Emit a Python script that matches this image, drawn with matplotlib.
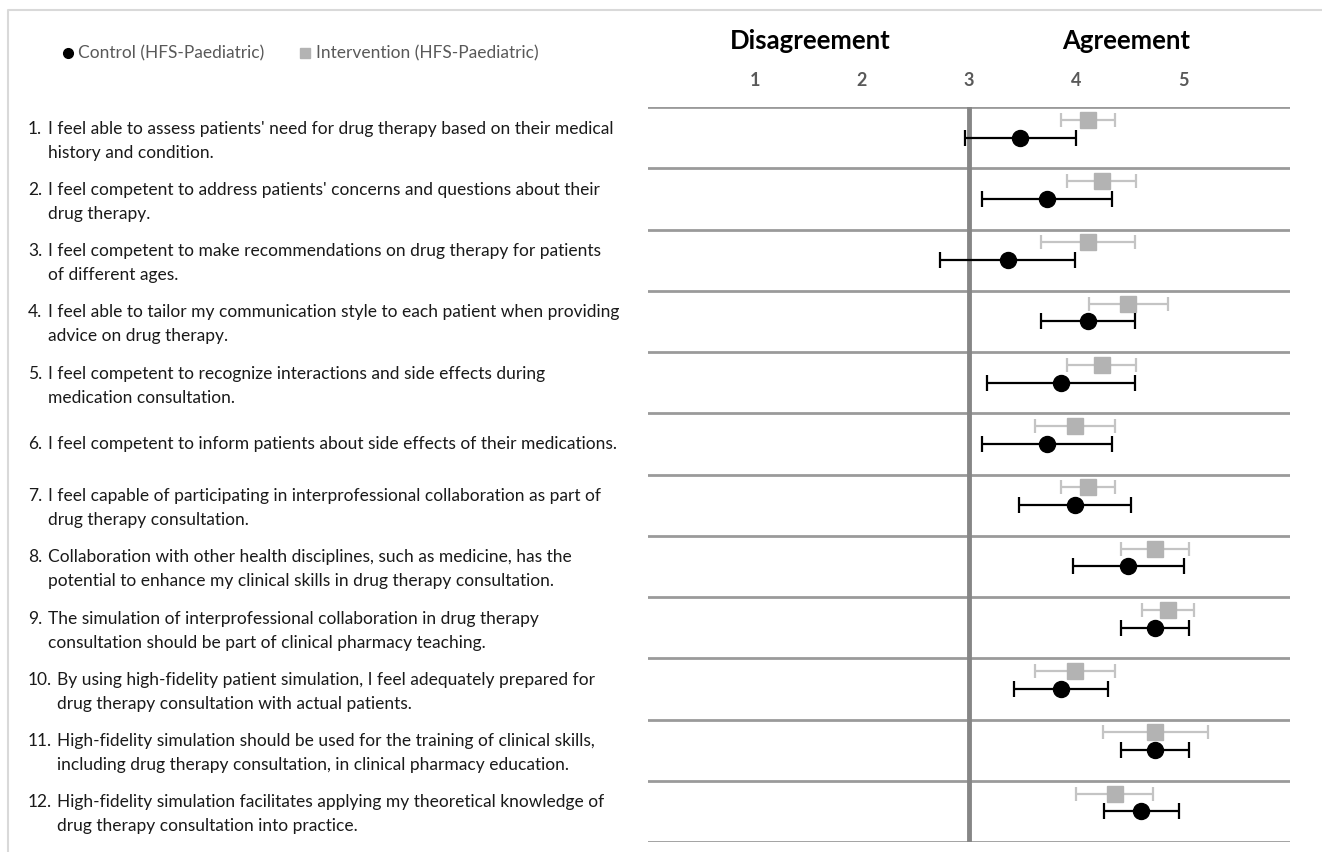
import numpy as np
import matplotlib
matplotlib.use("Agg")
import matplotlib.pyplot as plt
from matplotlib.lines import Line2D

# Survey items (number, first line, second line)
item_numbers = ["1.", "2.", "3.", "4.", "5.", "6.", "7.", "8.", "9.", "10.", "11.", "12."]
item_lines = [
    ["I feel able to assess patients' need for drug therapy based on their medical", "history and condition."],
    ["I feel competent to address patients' concerns and questions about their", "drug therapy."],
    ["I feel competent to make recommendations on drug therapy for patients", "of different ages."],
    ["I feel able to tailor my communication style to each patient when providing", "advice on drug therapy."],
    ["I feel competent to recognize interactions and side effects during", "medication consultation."],
    ["I feel competent to inform patients about side effects of their medications."],
    ["I feel capable of participating in interprofessional collaboration as part of", "drug therapy consultation."],
    ["Collaboration with other health disciplines, such as medicine, has the", "potential to enhance my clinical skills in drug therapy consultation."],
    ["The simulation of interprofessional collaboration in drug therapy", "consultation should be part of clinical pharmacy teaching."],
    ["By using high-fidelity patient simulation, I feel adequately prepared for", "drug therapy consultation with actual patients."],
    ["High-fidelity simulation should be used for the training of clinical skills,", "including drug therapy consultation, in clinical pharmacy education."],
    ["High-fidelity simulation facilitates applying my theoretical knowledge of", "drug therapy consultation into practice."],
]

# Mean agreement and error half-widths
control_mean = [3.48, 3.73, 3.36, 4.11, 3.86, 3.73, 3.99, 4.49, 4.74, 3.86, 4.74, 4.61]
control_err = [0.52, 0.61, 0.63, 0.44, 0.69, 0.61, 0.52, 0.52, 0.32, 0.44, 0.32, 0.35]
intervention_mean = [4.11, 4.24, 4.11, 4.49, 4.24, 3.99, 4.11, 4.74, 4.86, 3.99, 4.74, 4.36]
intervention_err = [0.25, 0.32, 0.44, 0.37, 0.32, 0.37, 0.25, 0.32, 0.24, 0.37, 0.49, 0.36]

scale_ticks = [1, 2, 3, 4, 5]
scale_headers = ["Disagreement", "Agreement"]
legend_labels = ["Control (HFS-Paediatric)", "Intervention (HFS-Paediatric)"]

W, H = 1322, 852
fig = plt.figure(figsize=(W / 100, H / 100), dpi=100)

def fx(px):
    return px / W

def fy(py):
    return 1 - py / H

# Chart panel
ax_l, ax_r, ax_t, ax_b = 648, 1290, 107, 842
ax = fig.add_axes([fx(ax_l), fy(ax_b), fx(ax_r - ax_l), (ax_b - ax_t) / H])
n = len(item_numbers)
ax.set_xlim(0, 6)
ax.set_ylim(n, 0)
for s in ax.spines.values():
    s.set_visible(False)
ax.set_yticks([])
ax.xaxis.tick_top()
ax.set_xticks(scale_ticks)
ax.set_xticklabels([str(t) for t in scale_ticks], fontfamily="Lato",
                   fontweight="bold", fontsize=13, color="#595959")
ax.tick_params(axis="x", length=0, pad=13)

for k in range(n + 1):
    ax.axhline(k, color="#9a9a9a", lw=2.0, zorder=1)
ax.axvline(3, color="#868686", lw=3.5, zorder=2)

rows = np.arange(n)
ax.errorbar(intervention_mean, rows + 0.21, xerr=intervention_err, fmt="s",
            color="#b3b3b3", ecolor="#c4c4c4", elinewidth=1.6, capsize=5,
            capthick=1.6, markersize=11, zorder=3)
ax.errorbar(control_mean, rows + 0.50, xerr=control_err, fmt="o",
            color="black", ecolor="black", elinewidth=1.6, capsize=6,
            capthick=1.6, markersize=11.5, zorder=4)

# Scale headers
for label, xv in zip(scale_headers, [1.52, 4.47]):
    fig.text(fx(ax_l + xv * (ax_r - ax_l) / 6), fy(41), label, ha="center",
             va="center", fontfamily="Lato", fontweight="bold", fontsize=18.5,
             color="black")

# Legend
fig.lines.append(Line2D([fx(68)], [fy(53)], marker="o", markersize=7,
                        color="black", transform=fig.transFigure))
fig.text(fx(78), fy(53), legend_labels[0], ha="left", va="center",
         fontfamily="Lato", fontsize=12.5, color="#595959")
fig.lines.append(Line2D([fx(305)], [fy(53)], marker="s", markersize=7,
                        color="#b3b3b3", transform=fig.transFigure))
fig.text(fx(316), fy(53), legend_labels[1], ha="left", va="center",
         fontfamily="Lato", fontsize=12.5, color="#595959")

# Item labels
row_h = (ax_b - ax_t) / n
for i, (num, lines) in enumerate(zip(item_numbers, item_lines)):
    yc = ax_t + row_h * (i + 0.5)
    body_x = 57 if len(num) > 2 else 48
    if len(lines) == 1:
        ys = [yc]
    else:
        ys = [yc - 9, yc + 15]
    fig.text(fx(28), fy(ys[0]), num, ha="left", va="center",
             fontfamily="Lato", fontsize=12.5, color="#1a1a1a")
    for line, yy in zip(lines, ys):
        fig.text(fx(body_x), fy(yy), line, ha="left", va="center",
                 fontfamily="Lato", fontsize=12.5, color="#1a1a1a")

# Light frame on the left and top edges
fig.lines.append(Line2D([fx(8), fx(8), fx(W)], [fy(H), fy(10), fy(10)],
                        color="#d9d9d9", lw=1.5, transform=fig.transFigure))

fig.savefig("out.png", dpi=100)
